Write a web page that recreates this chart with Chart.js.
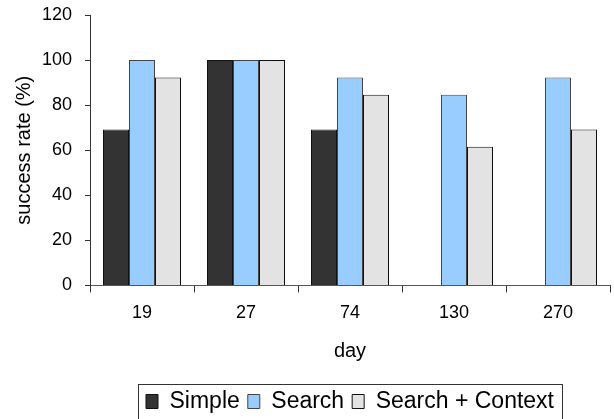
<!DOCTYPE html>
<html>
<head>
<meta charset="utf-8">
<script src="https://cdn.jsdelivr.net/npm/chart.js@4"></script>
<style>
  html, body { margin: 0; padding: 0; background: #fff; }
  #wrap { width: 614px; height: 419px; }
</style>
</head>
<body>
<div id="wrap"><canvas id="myChart"></canvas></div>
<script>
const days = ["19", "27", "74", "130", "270"];
const simple = [69.2, 100, 69.2, null, null];
const search = [100, 100, 92.3, 84.6, 92.3];
const searchContext = [92.3, 100, 84.6, 61.5, 69.2];
const yTicks = [0, 20, 40, 60, 80, 100, 120];

Chart.defaults.font.family = "'Liberation Sans', Arial, sans-serif";
Chart.defaults.color = "#000";

const LEG_PAD = 8;
const LEG_FONT = 23;

// centre the legend under the plot and draw a frame round it
const legendBox = {
  id: "legendBox",
  afterLayout(chart) {
    const l = chart.legend;
    l.left = chart.chartArea.left;
    l.top += 4;
    l.bottom += 4;
  },
  afterDraw(chart) {
    const l = chart.legend;
    const lw = l.lineWidths[0];
    const x0 = (l.left + LEG_PAD + l.right - lw) / 2;
    const x1 = x0 + lw - LEG_PAD;
    const cy = l.top + LEG_PAD + LEG_FONT / 2;
    const c = chart.ctx;
    c.save();
    c.strokeStyle = "#333";
    c.lineWidth = 1;
    c.strokeRect(Math.round(x0 - 8) + 0.5, Math.round(cy - 17.5) + 0.5, Math.round(x1 - x0 + 16), 35);
    c.restore();
  },
};

new Chart(document.getElementById("myChart"), {
  type: "bar",
  data: {
    labels: days,
    datasets: [
      {
        label: "Simple",
        data: simple,
        backgroundColor: "#333333",
        borderColor: "#111",
        borderWidth: 1,
      },
      {
        label: "Search",
        data: search,
        backgroundColor: "#99ccff",
        borderColor: "#444",
        borderWidth: 1,
      },
      {
        label: "Search + Context",
        data: searchContext,
        backgroundColor: "#e3e3e3",
        borderColor: "#111",
        borderWidth: 1,
      },
    ],
  },
  options: {
    responsive: true,
    maintainAspectRatio: false,
    animation: false,
    layout: { padding: { top: 15, right: 4, bottom: 0, left: 0 } },
    datasets: {
      bar: { categoryPercentage: 0.75, barPercentage: 1 },
    },
    scales: {
      x: {
        grid: { drawOnChartArea: false, tickLength: 7, color: "#333", offset: true },
        border: { color: "#555", width: 1 },
        ticks: { font: { size: 18 }, padding: 10 },
        title: { display: true, text: "day", font: { size: 20 }, padding: { top: 5, bottom: 15 } },
      },
      y: {
        min: 0,
        max: 120,
        afterBuildTicks: (s) => { s.ticks = yTicks.map((v) => ({ value: v })); },
        afterFit: (s) => { s.width = 90; s.paddingTop = 0; s.paddingBottom = 0; },
        grid: { drawOnChartArea: false, tickLength: 5, color: "#333" },
        border: { color: "#333", width: 1 },
        ticks: { font: { size: 18 }, padding: 13 },
        title: { display: true, text: "success rate (%)", font: { size: 20 }, padding: 12 },
      },
    },
    plugins: {
      legend: {
        position: "bottom",
        labels: {
          font: { size: LEG_FONT },
          boxWidth: 12,
          boxHeight: 14,
          padding: LEG_PAD,
          color: "#000",
        },
      },
      tooltip: { enabled: false },
    },
  },
  plugins: [legendBox],
});
</script>
</body>
</html>
